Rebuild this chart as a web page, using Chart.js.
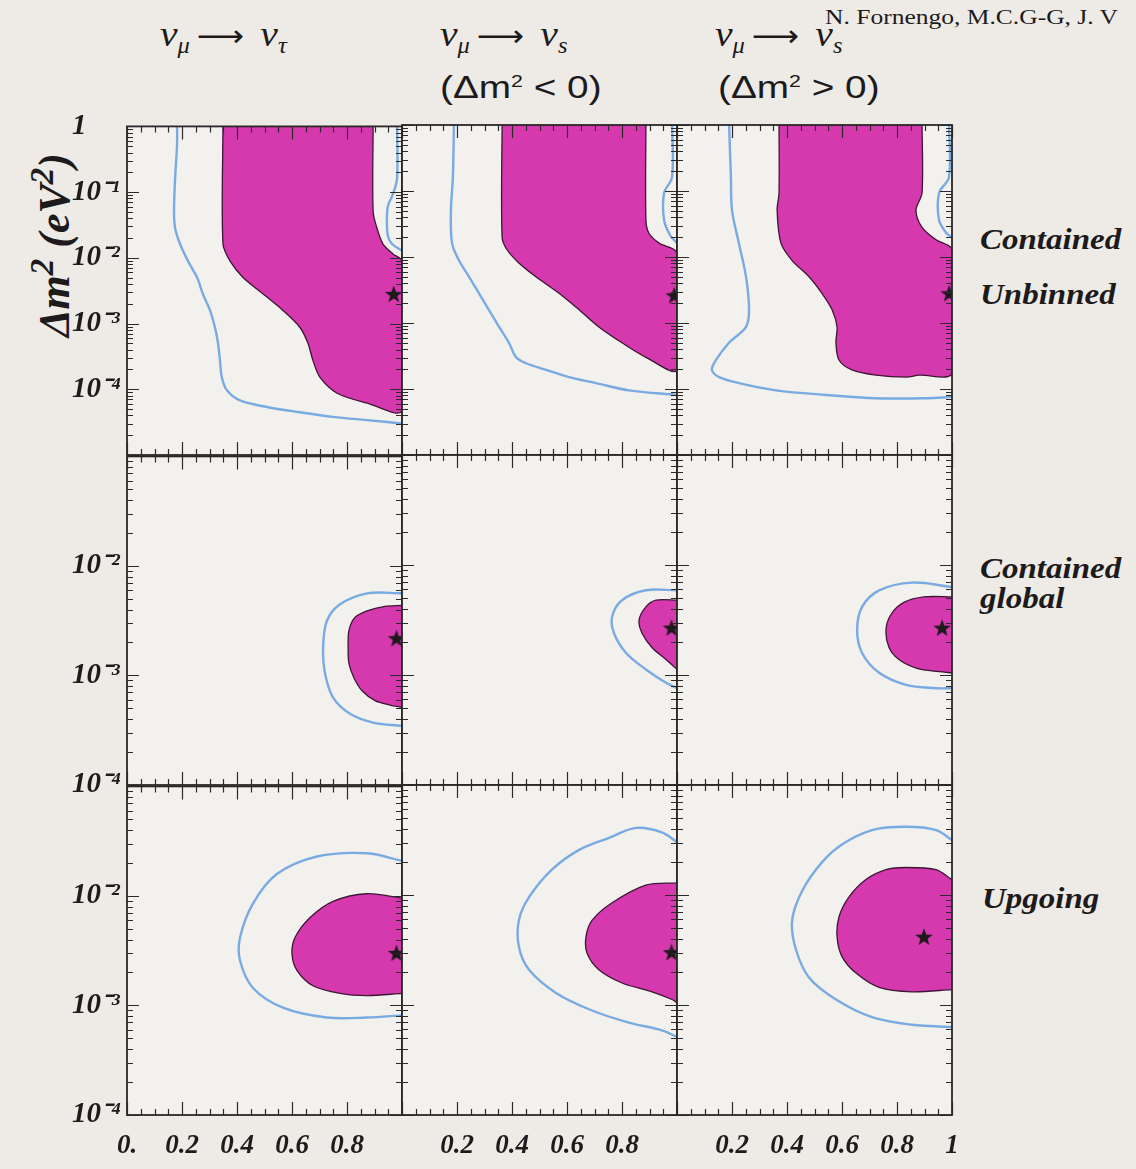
<!DOCTYPE html>
<html>
<head>
<meta charset="utf-8">
<script src="https://cdn.jsdelivr.net/npm/chart.js@4.4.0/dist/chart.umd.min.js"></script>
<style>
  body { margin: 0; width: 1136px; height: 1169px; overflow: hidden; position: relative; background: #eeebe6; }
  canvas { position: absolute; }
  .txt { position: absolute; white-space: nowrap; line-height: 1; color: #1c1a1b; transform-origin: 0 0; }
  .row { font: italic bold 30px "Liberation Serif", serif; transform: scaleX(1.1); }
  .title { font: italic 36px "Liberation Serif", serif; transform: scaleX(1.1); }
  .title sub { font-size: 62%; vertical-align: -0.3em; }
  .title .arr { font-style: normal; font-family: "DejaVu Sans", sans-serif; font-size: 30px; margin: 0 6px; }
  .cond { font: 31px "Liberation Sans", sans-serif; transform: scaleX(1.25); }
  .cond sup { font-size: 55%; }
  .author { font: 22px "Liberation Serif", serif; transform: scaleX(1.16); }
  #ytitle { position: absolute; left: 52px; top: 245px; white-space: nowrap; line-height: 1;
            font: italic bold 44px "Liberation Serif", serif; color: #1c1a1b;
            transform: translate(-50%, -50%) rotate(-90deg); }
  #ytitle sup { font-size: 75%; }
</style>
</head>
<body>
<div id="ytitle">&Delta;m<sup>2</sup> (eV<sup>2</sup>)</div>
<div class="txt author" style="left:825px; top:4px;">N. Fornengo, M.C.G-G, J. V</div>
<div class="txt title" style="left:160px; top:13px;"><i>&nu;</i><sub>&mu;</sub><span class="arr">&#10230;</span> <i>&nu;</i><sub>&tau;</sub></div>
<div class="txt title" style="left:440px; top:13px;"><i>&nu;</i><sub>&mu;</sub><span class="arr">&#10230;</span> <i>&nu;</i><sub>s</sub></div>
<div class="txt cond" style="left:440px; top:70px;">(&Delta;m<sup>2</sup> &lt; 0)</div>
<div class="txt title" style="left:715px; top:13px;"><i>&nu;</i><sub>&mu;</sub><span class="arr">&#10230;</span> <i>&nu;</i><sub>s</sub></div>
<div class="txt cond" style="left:718px; top:70px;">(&Delta;m<sup>2</sup> &gt; 0)</div>
<div class="txt row" style="left:980px; top:222px;">Contained</div>
<div class="txt row" style="left:980px; top:277px;">Unbinned</div>
<div class="txt row" style="left:980px; top:551px;">Contained</div>
<div class="txt row" style="left:980px; top:581px;">global</div>
<div class="txt row" style="left:982px; top:881px;">Upgoing</div>
<script>
// contours as [sin^2 2theta, log10(dm^2 / eV^2)]
// --- Contained Unbinned ---
const fillTauUnb = [[0.349,0.05],[0.349,-1.79],[0.375,-2.05],[0.422,-2.30],[0.495,-2.55],[0.567,-2.80],[0.629,-3.06],[0.658,-3.30],[0.676,-3.56],[0.702,-3.82],[0.764,-4.06],[0.873,-4.21],[1,-4.32],[1,-2.05],[0.967,-1.94],[0.931,-1.79],[0.909,-1.55],[0.895,-1.29],[0.895,0.05]];
const blueTauUnb = [[0.182,0.05],[0.182,-0.27],[0.175,-0.79],[0.171,-1.29],[0.175,-1.55],[0.193,-1.79],[0.222,-2.05],[0.255,-2.30],[0.276,-2.55],[0.302,-2.80],[0.320,-3.06],[0.331,-3.30],[0.338,-3.56],[0.345,-3.82],[0.364,-4.02],[0.411,-4.17],[0.509,-4.27],[0.629,-4.35],[0.749,-4.42],[0.873,-4.47],[1,-4.52]];
const blueTauUnbEdge = [[0.982,0.05],[0.982,-0.79],[0.967,-1.03],[0.949,-1.21],[0.945,-1.44],[0.949,-1.67],[0.964,-1.79],[1,-1.89]];
const starTauUnb = [0.97, -2.55];

const fillSNegUnb = [[0.364,0.05],[0.364,-1.70],[0.382,-1.89],[0.425,-2.09],[0.487,-2.30],[0.571,-2.55],[0.644,-2.80],[0.716,-3.06],[0.800,-3.30],[0.887,-3.52],[1,-3.71],[1,-1.94],[0.935,-1.79],[0.898,-1.64],[0.887,-1.44],[0.887,0.05]];
const blueSNegUnb = [[0.189,0.05],[0.185,-0.79],[0.178,-1.29],[0.182,-1.79],[0.207,-2.05],[0.244,-2.30],[0.280,-2.55],[0.316,-2.80],[0.353,-3.06],[0.389,-3.30],[0.415,-3.52],[0.451,-3.61],[0.524,-3.71],[0.607,-3.82],[0.705,-3.91],[0.825,-4.02],[1,-4.09]];
const blueSNegUnbEdge = [[0.982,0.05],[0.982,-0.79],[0.953,-1.03],[0.953,-1.44],[0.975,-1.67],[1,-1.79]];
const starSNegUnb = [0.99, -2.58];

const fillSPosUnb = [[0.371,0.05],[0.371,-1.03],[0.364,-1.29],[0.378,-1.79],[0.418,-2.05],[0.480,-2.30],[0.527,-2.55],[0.564,-2.80],[0.582,-3.06],[0.578,-3.30],[0.589,-3.56],[0.636,-3.71],[0.724,-3.79],[0.833,-3.82],[0.880,-3.79],[1,-3.76],[1,-1.89],[0.942,-1.74],[0.891,-1.55],[0.869,-1.29],[0.891,-1.03],[0.891,0.05]];
const blueSPosUnb = [[0.189,0.05],[0.196,-0.79],[0.200,-1.29],[0.225,-1.79],[0.251,-2.30],[0.262,-2.80],[0.251,-3.06],[0.189,-3.30],[0.142,-3.56],[0.127,-3.71],[0.153,-3.82],[0.225,-3.91],[0.360,-4.02],[0.542,-4.09],[0.724,-4.14],[0.905,-4.14],[1,-4.12]];
const blueSPosUnbEdge = [[0.989,0.05],[0.989,-0.79],[0.953,-1.03],[0.953,-1.44],[0.98,-1.64],[1,-1.70]];
const starSPosUnb = [0.99, -2.55];

// --- Contained global ---
const fillTauGlob = [[1,-2.36],[0.938,-2.37],[0.873,-2.41],[0.829,-2.47],[0.807,-2.59],[0.804,-2.75],[0.807,-2.89],[0.825,-3.02],[0.855,-3.14],[0.902,-3.23],[0.956,-3.27],[1,-3.29]];
const blueTauGlob = [[1,-2.25],[0.873,-2.25],[0.775,-2.35],[0.727,-2.50],[0.713,-2.75],[0.720,-2.98],[0.749,-3.20],[0.811,-3.35],[0.895,-3.43],[1,-3.46]];
const starTauGlob = [0.98, -2.66];

const fillSNegGlob = [[1,-2.32],[0.924,-2.32],[0.887,-2.38],[0.862,-2.50],[0.873,-2.62],[0.909,-2.75],[0.960,-2.86],[1,-2.95]];
const blueSNegGlob = [[1,-2.23],[0.887,-2.23],[0.800,-2.32],[0.764,-2.47],[0.771,-2.62],[0.815,-2.80],[0.887,-2.95],[0.960,-3.07],[1,-3.12]];
const starSNegGlob = [0.98, -2.57];

const fillSPosGlob = [[1,-2.29],[0.898,-2.29],[0.825,-2.34],[0.778,-2.45],[0.760,-2.59],[0.771,-2.75],[0.807,-2.86],[0.873,-2.94],[0.953,-2.97],[1,-2.98]];
const blueSPosGlob = [[1,-2.20],[0.855,-2.16],[0.735,-2.23],[0.673,-2.38],[0.655,-2.59],[0.673,-2.80],[0.735,-2.98],[0.833,-3.09],[0.942,-3.12],[1,-3.12]];
const starSPosGlob = [0.964, -2.57];

// --- Upgoing ---
const fillTauUp = [[1,-2.02],[0.873,-1.98],[0.749,-2.05],[0.665,-2.20],[0.611,-2.38],[0.600,-2.53],[0.618,-2.68],[0.676,-2.82],[0.775,-2.89],[0.873,-2.91],[1,-2.89]];
const blueTauUp = [[1,-1.68],[0.873,-1.61],[0.691,-1.64],[0.545,-1.80],[0.458,-2.07],[0.411,-2.38],[0.411,-2.59],[0.458,-2.84],[0.567,-3.02],[0.727,-3.11],[0.873,-3.11],[1,-3.09]];
const starTauUp = [0.98, -2.52];

const fillSNegUp = [[1,-1.89],[0.887,-1.91],[0.764,-2.07],[0.691,-2.23],[0.669,-2.38],[0.673,-2.53],[0.716,-2.68],[0.800,-2.80],[0.909,-2.88],[0.982,-2.95],[1,-2.98]];
const blueSNegUp = [[1,-1.52],[0.945,-1.43],[0.851,-1.39],[0.753,-1.48],[0.644,-1.59],[0.545,-1.77],[0.462,-2.02],[0.425,-2.23],[0.425,-2.47],[0.462,-2.68],[0.560,-2.89],[0.691,-3.05],[0.825,-3.16],[0.945,-3.23],[1,-3.29]];
const starSNegUp = [0.98, -2.52];

const fillSPosUp = [[1,-1.86],[0.942,-1.77],[0.833,-1.75],[0.760,-1.77],[0.687,-1.86],[0.625,-2.02],[0.589,-2.20],[0.582,-2.38],[0.600,-2.56],[0.651,-2.71],[0.735,-2.84],[0.855,-2.88],[1,-2.86]];
const blueSPosUp = [[1,-1.50],[0.942,-1.41],[0.833,-1.38],[0.709,-1.41],[0.589,-1.56],[0.505,-1.77],[0.444,-2.02],[0.418,-2.25],[0.433,-2.50],[0.480,-2.75],[0.578,-2.95],[0.709,-3.11],[0.855,-3.18],[1,-3.20]];
const starSPosUp = [0.898, -2.38];

// axes
const xTickValues = [0,0.05,0.1,0.15,0.2,0.25,0.3,0.35,0.4,0.45,0.5,0.55,0.6,0.65,0.7,0.75,0.8,0.85,0.9,0.95,1];
const xMajor = [0, 0.2, 0.4, 0.6, 0.8, 1];
const xLabels = [
  [[0,'0.'],[0.2,'0.2'],[0.4,'0.4'],[0.6,'0.6'],[0.8,'0.8']],
  [[0.2,'0.2'],[0.4,'0.4'],[0.6,'0.6'],[0.8,'0.8']],
  [[0.2,'0.2'],[0.4,'0.4'],[0.6,'0.6'],[0.8,'0.8'],[1,'1']]
];
const yDecadesTop = [-5,-4,-3,-2,-1,0];
const yDecadesLow = [-4,-3,-2,-1];
const yMinorFactors = [2,3,4,5,6,7,8,9];
const yLabelsTop = [[0,'1'],[-1,'10\u207B\u00B9'],[-2,'10\u207B\u00B2'],[-3,'10\u207B\u00B3'],[-4,'10\u207B\u2074']];
const yLabelsLow = [[-2,'10\u207B\u00B2'],[-3,'10\u207B\u00B3'],[-4,'10\u207B\u2074']];

const panels = [
  {row:0, col:0, fill:fillTauUnb,  blue:[blueTauUnb, blueTauUnbEdge],   star:starTauUnb},
  {row:0, col:1, fill:fillSNegUnb, blue:[blueSNegUnb, blueSNegUnbEdge], star:starSNegUnb},
  {row:0, col:2, fill:fillSPosUnb, blue:[blueSPosUnb, blueSPosUnbEdge], star:starSPosUnb},
  {row:1, col:0, fill:fillTauGlob,  blue:[blueTauGlob],  star:starTauGlob},
  {row:1, col:1, fill:fillSNegGlob, blue:[blueSNegGlob], star:starSNegGlob},
  {row:1, col:2, fill:fillSPosGlob, blue:[blueSPosGlob], star:starSPosGlob},
  {row:2, col:0, fill:fillTauUp,  blue:[blueTauUp],  star:starTauUp},
  {row:2, col:1, fill:fillSNegUp, blue:[blueSNegUp], star:starSNegUp},
  {row:2, col:2, fill:fillSPosUp, blue:[blueSPosUp], star:starSPosUp}
];

// layout
const colLeft = [127, 402, 677], panelW = 275;
const rowTop = [125, 455, 785], panelH = 330;
const padL = 55, padT = 20, padR = 20, padB = 60;

const magenta = '#d639ad';
const fillEdge = '#3d1535';
const blueLine = '#79abe2';
const plotBg = '#f3f1ed';
const ink = '#1d1b1c';
const xFont = {family: 'Liberation Serif', size: 27, style: 'italic', weight: 'bold'};
const yFont = {family: 'Liberation Serif', size: 29, style: 'italic', weight: 'bold'};

const starImg = (() => {
  const c = document.createElement('canvas');
  c.width = 20; c.height = 20;
  const g = c.getContext('2d');
  g.fillStyle = '#1d1a1c';
  g.beginPath();
  for (let i = 0; i < 10; i++) {
    const r = i % 2 ? 3.8 : 9.2;
    const a = -Math.PI / 2 + i * Math.PI / 5;
    g.lineTo(10 + r * Math.cos(a), 10.8 + r * Math.sin(a));
  }
  g.closePath();
  g.fill();
  return c;
})();

function toXY(pts) {
  return pts.map(p => ({x: p[0], y: Math.pow(10, p[1])}));
}

function yTicksFor(decades) {
  const t = [];
  decades.forEach((d, i) => {
    t.push({value: Math.pow(10, d), major: true});
    if (i < decades.length - 1) yMinorFactors.forEach(f => t.push({value: f * Math.pow(10, d), major: false}));
  });
  return t;
}

const framePlugin = {
  id: 'frame',
  beforeDraw(chart) {
    const a = chart.chartArea, ctx = chart.ctx;
    ctx.save();
    ctx.fillStyle = plotBg;
    ctx.fillRect(a.left, a.top, a.right - a.left, a.bottom - a.top);
    ctx.restore();
  },
  afterDraw(chart) {
    const a = chart.chartArea, ctx = chart.ctx;
    const x = chart.scales.x, y = chart.scales.y;
    ctx.save();
    ctx.strokeStyle = '#2b2929';
    ctx.lineWidth = 1.2;
    ctx.beginPath();
    x.ticks.forEach(t => {
      const px = Math.round(x.getPixelForValue(t.value)) + 0.5;
      const len = t.major ? 13 : 6;
      ctx.moveTo(px, a.top); ctx.lineTo(px, a.top + len);
      ctx.moveTo(px, a.bottom); ctx.lineTo(px, a.bottom - len);
    });
    y.ticks.forEach(t => {
      const py = Math.round(y.getPixelForValue(t.value)) + 0.5;
      const len = t.major ? 12 : 6;
      ctx.moveTo(a.left, py); ctx.lineTo(a.left + len, py);
      ctx.moveTo(a.right, py); ctx.lineTo(a.right - len, py);
    });
    ctx.stroke();
    ctx.lineWidth = 1.8;
    ctx.strokeStyle = '#2a2728';
    ctx.strokeRect(a.left, a.top, a.right - a.left, a.bottom - a.top);
    ctx.restore();
  }
};

panels.forEach(p => {
  const cv = document.createElement('canvas');
  cv.width = padL + panelW + padR;
  cv.height = padT + panelH + padB;
  cv.style.left = (colLeft[p.col] - padL) + 'px';
  cv.style.top = (rowTop[p.row] - padT) + 'px';
  document.body.appendChild(cv);

  const top = p.row === 0;
  const yLab = top ? yLabelsTop : yLabelsLow;
  const xLab = xLabels[p.col];

  new Chart(cv.getContext('2d'), {
    type: 'line',
    data: {
      datasets: [
        {data: toXY([p.star]), showLine: false, pointStyle: starImg, pointRadius: 9, order: 0},
        ...p.blue.map(b => ({
          data: toXY(b), borderColor: blueLine, borderWidth: 2.4, pointRadius: 0,
          tension: 0.35, fill: false, order: 1
        })),
        {
          data: toXY(p.fill), borderColor: fillEdge, borderWidth: 1.3, backgroundColor: magenta,
          pointRadius: 0, tension: 0.3, fill: 'shape', order: 2
        }
      ]
    },
    options: {
      responsive: false,
      animation: false,
      events: [],
      layout: {padding: {left: 0, top: padT, right: padR, bottom: 0}},
      plugins: {legend: {display: false}, tooltip: {enabled: false}},
      scales: {
        x: {
          type: 'linear', min: 0, max: 1,
          afterBuildTicks: s => { s.ticks = xTickValues.map(v => ({value: v, major: xMajor.includes(v)})); },
          afterFit: s => { s.height = padB; },
          grid: {display: false},
          border: {display: false},
          ticks: {
            display: p.row === 2, autoSkip: false, maxRotation: 0, minRotation: 0,
            padding: 7, color: ink, font: xFont,
            callback: v => { const m = xLab.find(l => Math.abs(l[0] - v) < 1e-9); return m ? m[1] : ''; }
          }
        },
        y: {
          type: 'logarithmic',
          min: Math.pow(10, top ? -5 : -4), max: Math.pow(10, top ? 0 : -1),
          afterBuildTicks: s => { s.ticks = yTicksFor(top ? yDecadesTop : yDecadesLow); },
          afterFit: s => { s.width = padL; },
          grid: {display: false},
          border: {display: false},
          ticks: {
            display: p.col === 0, autoSkip: false, crossAlign: 'far', padding: 4,
            color: ink, font: yFont,
            callback: v => { const m = yLab.find(l => Math.abs(Math.log10(v) - l[0]) < 1e-6); return m ? m[1] : ''; }
          }
        }
      }
    },
    plugins: [framePlugin]
  });
});
</script>
</body>
</html>
